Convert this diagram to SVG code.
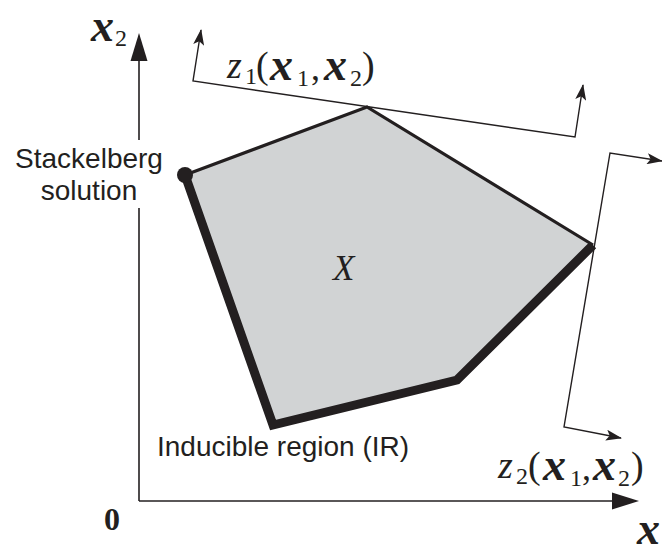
<svg xmlns="http://www.w3.org/2000/svg" width="662" height="548" viewBox="0 0 662 548">
<style>
.ax{stroke:#231f20;stroke-width:1.6;fill:none}
.thin{stroke:#231f20;stroke-width:1.4;fill:none}
.edge{stroke:#231f20;stroke-width:3.2;fill:none;stroke-linejoin:miter}
.ir{stroke:#231f20;stroke-width:9;fill:none;stroke-linejoin:miter}
.sans{font-family:"Liberation Sans",Arial,sans-serif;font-size:28px;fill:#231f20}
.m{font-family:"Liberation Serif","Times New Roman",serif;fill:#231f20}
.it{font-style:italic}
.bi{font-style:italic;font-weight:bold;font-size:46px}
.sub{font-size:24px}
</style>
<defs>
<marker id="ah" viewBox="0 0 16 11" refX="15" refY="5.5" markerWidth="16" markerHeight="11" markerUnits="userSpaceOnUse" orient="auto-start-reverse">
<path d="M0,0 L16,5.5 L0,11 L3.5,5.5 Z" fill="#231f20"/>
</marker>
</defs>
<rect width="662" height="548" fill="#fff"/>
<g id="axes">
<line class="ax" x1="139" y1="501" x2="139" y2="58"/>
<polygon points="139,33 130.5,61 147.5,61" fill="#231f20"/>
<line class="ax" x1="139" y1="501" x2="614" y2="501"/>
<polygon points="639,501 612,492.5 612,509.5" fill="#231f20"/>
</g>
<g id="region-X">
<polygon points="185,175 367,107 593,245 457,380 273,425" fill="#d1d3d4"/>
<polyline class="edge" points="185,175 367,107 593,245"/>
<polyline class="ir" points="185,175 273,425 457,380 593,245"/>
<circle cx="185" cy="175" r="8" fill="#231f20"/>
<text class="m it" x="333" y="280" font-size="35" fill="#333">X</text>
</g>
<g id="connectors">
<polyline class="thin" points="201,30 193,81 575,137 583,85" marker-start="url(#ah)" marker-end="url(#ah)"/>
<polyline class="thin" points="662,161 610,153 564,427 621,438" marker-start="url(#ah)" marker-end="url(#ah)"/>
</g>
<g id="stackelberg">
<rect x="12" y="140" width="152" height="68" fill="#fff"/>
<text class="sans" text-anchor="middle" x="89" y="168">Stackelberg</text>
<text class="sans" text-anchor="middle" x="89" y="200">solution</text>
</g>
<g id="ir-label">
<text class="sans" x="157" y="456">Inducible region (IR)</text>
</g>
<g id="z1-label" class="m">
<text class="it" x="227" y="78" font-size="38">z</text>
<text class="sub" x="245" y="84">1</text>
<text x="256" y="78" font-size="38">(</text>
<text class="bi" x="270" y="80">x</text>
<text class="sub" x="297" y="86">1</text>
<text x="311" y="80" font-size="36">,</text>
<text class="bi" x="324" y="80">x</text>
<text class="sub" x="350" y="86">2</text>
<text x="362" y="78" font-size="38">)</text>
</g>
<g id="z2-label" class="m">
<text class="it" x="498" y="478" font-size="38">z</text>
<text class="sub" x="516" y="484">2</text>
<text x="528" y="478" font-size="38">(</text>
<text class="bi" x="543" y="480">x</text>
<text class="sub" x="570" y="486">1</text>
<text x="582" y="480" font-size="36">,</text>
<text class="bi" x="593" y="480">x</text>
<text class="sub" x="618" y="486">2</text>
<text x="631" y="478" font-size="38">)</text>
</g>
<g id="axis-labels" class="m">
<text class="bi" x="91" y="41">x</text>
<text class="sub" x="115" y="46">2</text>
<text class="bi" x="637" y="544">x</text>
<text class="sub" x="661" y="549">1</text>
<text x="104" y="530" font-size="32" font-weight="bold">0</text>
</g>
</svg>
